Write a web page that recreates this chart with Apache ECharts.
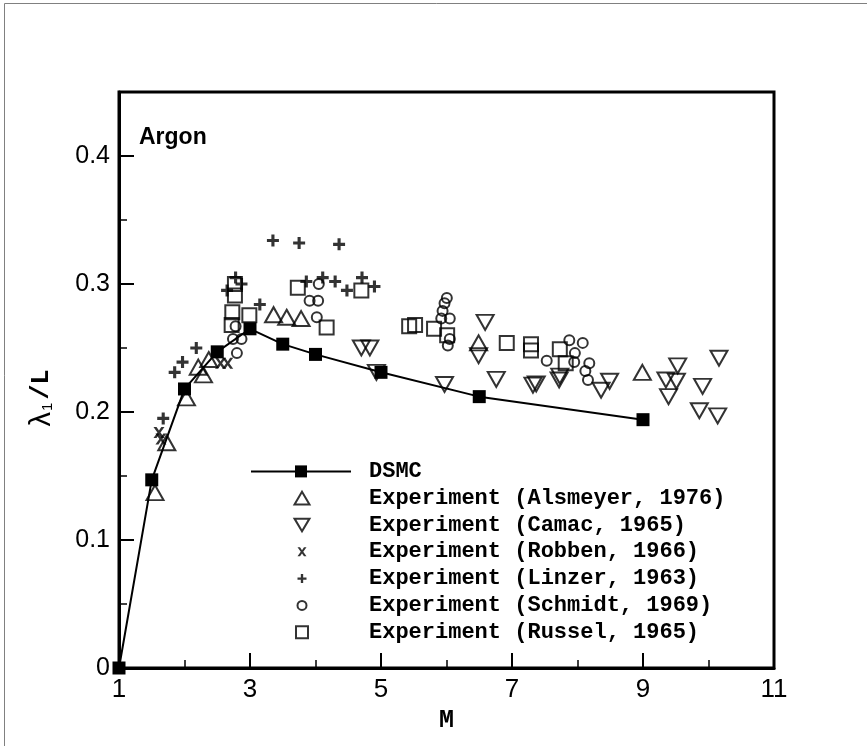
<!DOCTYPE html>
<html>
<head>
<meta charset="utf-8">
<script src="https://cdn.jsdelivr.net/npm/echarts@6/dist/echarts.min.js"></script>
<style>
html,body{margin:0;padding:0;background:#fff;}
#chart{width:867px;height:746px;}
</style>
</head>
<body>
<div id="chart"></div>
<script>
// ---- data ----
const dsmcM = [1, 1.5, 2, 2.5, 3, 3.5, 4, 5, 6.5, 9];
const dsmcY = [0, 0.147, 0.218, 0.247, 0.265, 0.253, 0.245, 0.231, 0.212, 0.194];

const alsmeyerM = [1.55, 1.73, 2.03, 2.21, 2.29, 2.37, 3.36, 3.56, 3.78, 6.49, 8.99];
const alsmeyerY = [0.137, 0.176, 0.211, 0.235, 0.229, 0.241, 0.276, 0.274, 0.273, 0.254, 0.231];

const camacM = [4.70, 4.83, 4.93, 5.97, 6.49, 6.59, 6.76, 7.32, 7.37, 7.72, 7.73, 8.36, 8.49, 9.35, 9.39, 9.51, 9.53, 9.86, 9.91, 10.14, 10.16];
const camacY = [0.250, 0.250, 0.231, 0.2215, 0.244, 0.270, 0.2255, 0.221, 0.222, 0.225, 0.228, 0.217, 0.224, 0.225, 0.212, 0.224, 0.236, 0.201, 0.220, 0.197, 0.242];

const robbenM = [1.61, 1.64, 2.55, 2.66];
const robbenY = [0.184, 0.179, 0.238, 0.238];

const linzerM = [1.675, 1.85, 1.97, 2.18, 2.65, 2.78, 2.87, 3.15, 3.35, 3.75, 3.86, 4.11, 4.30, 4.36, 4.48, 4.71, 4.90];
const linzerY = [0.195, 0.231, 0.239, 0.250, 0.295, 0.305, 0.300, 0.284, 0.334, 0.332, 0.302, 0.305, 0.302, 0.331, 0.295, 0.305, 0.298];

const schmidtM = [2.74, 2.78, 2.80, 2.87, 3.91, 4.02, 4.04, 4.05, 5.92, 5.94, 5.97, 6.005, 6.02, 6.05, 6.05, 7.53, 7.875, 7.95, 7.96, 8.08, 8.12, 8.16, 8.18];
const schmidtY = [0.257, 0.267, 0.246, 0.257, 0.287, 0.274, 0.287, 0.300, 0.273, 0.279, 0.285, 0.289, 0.252, 0.273, 0.257, 0.240, 0.256, 0.239, 0.246, 0.254, 0.232, 0.225, 0.238];

const russelM = [2.72, 2.73, 2.77, 2.77, 2.99, 3.73, 4.17, 4.70, 5.43, 5.52, 5.81, 6.01, 6.92, 7.29, 7.29, 7.73, 7.82];
const russelY = [0.268, 0.278, 0.291, 0.300, 0.2755, 0.297, 0.266, 0.295, 0.267, 0.268, 0.265, 0.260, 0.254, 0.253, 0.248, 0.249, 0.238];

const seriesNames = [
  'DSMC',
  'Experiment (Alsmeyer, 1976)',
  'Experiment (Camac, 1965)',
  'Experiment (Robben, 1966)',
  'Experiment (Linzer, 1963)',
  'Experiment (Schmidt, 1969)',
  'Experiment (Russel, 1965)'
];

// ---- helpers ----
function pairs(xs, ys) { return xs.map((x, i) => [x, ys[i]]); }

const TRI_UP = 'path://M10,0L20,17L0,17Z';
const TRI_DOWN = 'path://M0,0L20,0L10,17Z';
const SQUARE = 'path://M0,0L10,0L10,10L0,10Z';
const PLUS = 'path://M3.7,0L6.3,0L6.3,3.7L10,3.7L10,6.3L6.3,6.3L6.3,10L3.7,10L3.7,6.3L0,6.3L0,3.7L3.7,3.7Z';
const CROSS = 'path://M0,0L2.8,0L5,3.2L7.2,0L10,0L6.4,5L10,10L7.2,10L5,6.8L2.8,10L0,10L3.6,5Z';

const hollow = { color: 'rgba(0,0,0,0)', borderColor: '#000', borderWidth: 2 };
const solid = { color: '#000', borderWidth: 0 };

const rowH = 26.8;
const legendTop0 = 458;
const textX = 368;     // where the legend texts start
const iconCX = 301;    // centre of the legend symbols

function legendBlock(names, top, iconW, iconH, styles, isLine) {
  const left = isLine ? 250 : iconCX - iconW / 2;
  const pad = textX - (left + iconW + 5);
  return {
    orient: 'vertical',
    left: left,
    top: top,
    padding: 0,
    itemGap: 0,
    itemWidth: iconW,
    itemHeight: iconH,
    selectedMode: false,
    textStyle: {
      fontFamily: 'Liberation Mono',
      fontWeight: 'bold',
      fontSize: 22,
      color: '#000',
      lineHeight: rowH,
      padding: [0, 0, 0, pad]
    },
    data: names.map((n, i) => ({ name: n, itemStyle: styles[i] }))
  };
}

const chart = echarts.init(document.getElementById('chart'), null, { renderer: 'canvas' });

const option = {
  backgroundColor: '#fff',
  animation: false,
  title: {
    text: 'Argon',
    left: 139,
    top: 126,
    padding: 0,
    textStyle: { fontFamily: 'Liberation Sans', fontWeight: 'bold', fontSize: 23, color: '#000' }
  },
  graphic: [{
    type: 'rect',
    shape: { x: 4.5, y: 3.5, width: 1000, height: 1000 },
    style: { fill: 'none', stroke: '#808080', lineWidth: 1 },
    silent: true
  }],
  legend: [
    legendBlock([seriesNames[0]], legendTop0, 100, 15, [{ color: '#000' }], true),
    legendBlock([seriesNames[1], seriesNames[2]], legendTop0 + rowH, 15, 13, [hollow, hollow]),
    legendBlock([seriesNames[3], seriesNames[4], seriesNames[5]], legendTop0 + 3 * rowH, 9, 9, [solid, solid, hollow]),
    legendBlock([seriesNames[6]], legendTop0 + 6 * rowH, 12, 12, [hollow])
  ],
  grid: {
    left: 119, right: 93, top: 92, bottom: 78,
    show: true, borderColor: '#000', borderWidth: 3, backgroundColor: 'transparent'
  },
  xAxis: [{
    type: 'value', min: 1, max: 11, interval: 2,
    name: 'M', nameLocation: 'middle', nameGap: 31,
    nameTextStyle: { fontFamily: 'Liberation Mono', fontWeight: 'bold', fontSize: 25, color: '#000' },
    axisLine: { show: true, onZero: false, lineStyle: { color: '#000', width: 3 } },
    axisTick: { show: true, inside: true, length: 15, lineStyle: { color: '#000', width: 2 } },
    axisLabel: { margin: 9, fontFamily: 'Liberation Sans Narrow, Liberation Sans', fontSize: 26, color: '#000' },
    splitLine: { show: false }
  }, {
    type: 'value', min: 1, max: 11, interval: 1, position: 'bottom',
    axisLine: { show: false },
    axisTick: { show: true, inside: true, length: 8, lineStyle: { color: '#000', width: 1.5 } },
    axisLabel: { show: false },
    splitLine: { show: false }
  }],
  yAxis: [{
    type: 'value', min: 0, max: 0.45, interval: 0.1,
    name: '{l|λ}{s|1}{m|/L}', nameLocation: 'middle', nameGap: 63,
    nameTextStyle: {
      padding: [0, 36, 0, 0],
      rich: {
        l: { fontFamily: 'Liberation Sans', fontSize: 29, color: '#000' },
        s: { fontFamily: 'Liberation Sans', fontSize: 15, color: '#000', padding: [12, 3, 0, 1] },
        m: { fontFamily: 'Liberation Mono', fontWeight: 'bold', fontSize: 25, color: '#000' }
      }
    },
    axisLine: { show: true, onZero: false, lineStyle: { color: '#000', width: 3 } },
    axisTick: { show: true, inside: true, length: 15, lineStyle: { color: '#000', width: 2 } },
    axisLabel: { margin: 9, fontFamily: 'Liberation Sans', fontSize: 25, color: '#000', showMaxLabel: false,
      formatter: v => (v === 0 ? '0' : String(+v.toFixed(2))) },
    splitLine: { show: false }
  }, {
    type: 'value', min: 0, max: 0.45, interval: 0.05, position: 'left',
    axisLine: { show: false },
    axisTick: { show: true, inside: true, length: 8, lineStyle: { color: '#000', width: 1.5 } },
    axisLabel: { show: false },
    splitLine: { show: false }
  }],
  series: [
    {
      name: seriesNames[1], type: 'scatter', data: pairs(alsmeyerM, alsmeyerY),
      symbol: TRI_UP, symbolSize: [17, 15], itemStyle: hollow, z: 3
    },
    {
      name: seriesNames[2], type: 'scatter', data: pairs(camacM, camacY),
      symbol: TRI_DOWN, symbolSize: [17, 15], itemStyle: hollow, z: 3
    },
    {
      name: seriesNames[3], type: 'scatter', data: pairs(robbenM, robbenY),
      symbol: CROSS, symbolSize: [11, 11], itemStyle: solid, z: 3
    },
    {
      name: seriesNames[4], type: 'scatter', data: pairs(linzerM, linzerY),
      symbol: PLUS, symbolSize: [12, 12], itemStyle: solid, z: 3
    },
    {
      name: seriesNames[5], type: 'scatter', data: pairs(schmidtM, schmidtY),
      symbol: 'circle', symbolSize: 10, itemStyle: hollow, z: 3
    },
    {
      name: seriesNames[6], type: 'scatter', data: pairs(russelM, russelY),
      symbol: SQUARE, symbolSize: [14, 14], itemStyle: hollow, z: 3
    },
    {
      name: seriesNames[0], type: 'line', data: pairs(dsmcM, dsmcY),
      symbol: 'rect', symbolSize: 13, showAllSymbol: true,
      itemStyle: { color: '#000' }, lineStyle: { color: '#000', width: 2 }, z: 4
    }
  ]
};

chart.setOption(option);
</script>
</body>
</html>
